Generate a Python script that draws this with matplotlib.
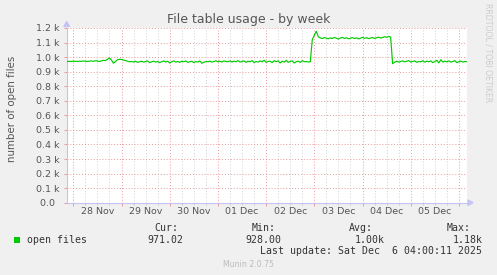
import matplotlib
matplotlib.use("Agg")
import matplotlib.pyplot as plt
from matplotlib.patches import Polygon, Rectangle
import numpy as np

# ---------------- data ----------------
hours = list(range(-4, 197))  # hours since 28 Nov 00:00
open_files = [
    968, 970, 971, 970, 972, 971, 970, 972, 971, 973, 972, 970,
    972, 974, 971, 975, 973, 970, 974, 978, 976, 985, 994, 980,
    958, 970, 982, 985, 984, 980, 976, 972, 968, 970, 966, 972,
    964, 968, 972, 966, 970, 974, 962, 968, 972, 966, 970, 962,
    968, 974, 966, 972, 960, 968, 974, 966, 970, 964, 972, 968,
    974, 964, 968, 972, 962, 970, 966, 974, 958, 964, 970, 968,
    972, 966, 970, 975, 968, 972, 966, 974, 970, 968, 974, 966,
    972, 968, 976, 966, 970, 974, 964, 972, 968, 976, 962, 970,
    966, 974, 968, 978, 964, 970, 972, 962, 976, 968, 974, 960,
    972, 966, 978, 964, 970, 974, 960, 968, 972, 964, 976, 968,
    970, 966, 968, 1120, 1150, 1178, 1140, 1132, 1128, 1134, 1130, 1126,
    1132, 1128, 1135, 1130, 1124, 1131, 1136, 1128, 1133, 1126, 1130, 1134,
    1128, 1132, 1125, 1130, 1136, 1129, 1133, 1127, 1131, 1135, 1128, 1133,
    1137, 1131, 1135, 1140, 1136, 1142, 1138, 955, 964, 972, 966, 970,
    974, 968, 972, 976, 966, 970, 974, 964, 970, 968, 975, 966,
    972, 968, 974, 962, 970, 978, 960, 982, 966, 972, 968, 974,
    966, 970, 976, 962, 968, 972, 966, 970, 968,
]
day_labels = ["28 Nov", "29 Nov", "30 Nov", "01 Dec", "02 Dec",
              "03 Dec", "04 Dec", "05 Dec"]
y_ticks = [0, 100, 200, 300, 400, 500, 600, 700, 800, 900, 1000, 1100, 1200]
y_tick_labels = ["0.0\u2002", "0.1 k", "0.2 k", "0.3 k", "0.4 k", "0.5 k", "0.6 k",
                 "0.7 k", "0.8 k", "0.9 k", "1.0 k", "1.1 k", "1.2 k"]
title = "File table usage - by week"
ylabel = "number of open files"
series_name = "open files"
stat_names = ["Cur:", "Min:", "Avg:", "Max:"]
stat_values = ["971.02", "928.00", "1.00k", "1.18k"]
last_update = "Last update: Sat Dec  6 04:00:11 2025"
footer = "Munin 2.0.75"
watermark = "RRDTOOL / TOBI OETIKER"

# ---------------- figure ----------------
W, H = 497, 275
BG = "#f0f0f0"
TXT = "#555555"
GREEN = "#00cc00"
AXC = "#c4c4f4"
MAJ = "#e89a9a"
MIN = "#cfcfcf"

fig = plt.figure(figsize=(W / 100, H / 100), dpi=100, facecolor=BG)

def fx(x):
    return x / W

def fy(y):
    return 1 - y / H

L, R, T, B = 66.7, 467.0, 28.0, 202.7
ax = fig.add_axes([fx(L), fy(B), fx(R) - fx(L), fy(T) - fy(B)])
ax.set_facecolor("white")

x_days = np.array(hours) / 24.0
ax.plot(x_days, open_files, color=GREEN, lw=0.85, zorder=3)

ax.set_xlim((L - 73.3) / 48.2, (R - 73.3) / 48.2)
ax.set_ylim(0, 1200)

# x ticks: majors at day boundaries, minors every 6 hours (labels at noon)
ax.set_xticks(list(range(0, 9)))
ax.set_xticklabels([""] * 9)
minor_pos, minor_lab = [], []
for d in range(8):
    for q in (1, 2, 3):
        minor_pos.append(d + q / 4)
        minor_lab.append(day_labels[d] if q == 2 else "")
ax.set_xticks(minor_pos, minor_lab, minor=True)

ax.set_yticks(y_ticks, y_tick_labels)

ax.tick_params(axis="x", which="major", length=2.2, width=0.7, color=MAJ, direction="out")
ax.tick_params(axis="x", which="minor", length=1.4, width=0.7, color=MIN, direction="out",
               pad=2.0, labelsize=6.8, labelcolor=TXT)
ax.tick_params(axis="y", which="major", length=2.2, width=0.7, color=MAJ, direction="out",
               pad=3.1, labelsize=6.8, labelcolor=TXT)

ax.grid(True, which="minor", axis="x", color=MIN, lw=0.7, linestyle=(0, (1, 2)))
ax.grid(True, which="major", axis="x", color=MAJ, lw=0.7, linestyle=(0, (1, 2)))
ax.grid(True, which="major", axis="y", color=MAJ, lw=0.7, linestyle=(0, (1, 2)))
ax.set_axisbelow(True)

for s in ("top", "right"):
    ax.spines[s].set_visible(False)
for s in ("left", "bottom"):
    ax.spines[s].set_color(AXC)
    ax.spines[s].set_linewidth(0.8)

# axis arrows
fig.patches.append(Polygon([(fx(L), fy(21.5)), (fx(L - 2.8), fy(26.5)), (fx(L + 2.8), fy(26.5))],
                           closed=True, transform=fig.transFigure, color=AXC, zorder=5))
fig.patches.append(Polygon([(fx(473), fy(B)), (fx(468), fy(B - 2.8)), (fx(468), fy(B + 2.8))],
                           closed=True, transform=fig.transFigure, color=AXC, zorder=5))

# texts
fig.text(fx(248.3), fy(19.5), title, ha="center", va="center", fontsize=9, color=TXT)
fig.text(fx(12.3), fy(109), ylabel, ha="center", va="center", rotation=90,
         fontsize=7.4, color=TXT)
fig.text(fx(487.7), fy(53), watermark, ha="center", va="center", rotation=270,
         fontsize=5.6, color="#cccccc")

MONO = "DejaVu Sans Mono"
fig.patches.append(Rectangle((fx(14), fy(242.5)), fx(6), 6 / H, transform=fig.transFigure,
                             facecolor=GREEN, edgecolor="none"))
fig.text(fx(26.7), fy(240), series_name, ha="left", va="center", fontsize=7.1,
         color="#333333", family=MONO)
label_left = [154.0, 252.0, 349.3, 446.7]
value_right = [183.3, 281.7, 385.0, 482.7]
for name, val, xl, xr in zip(stat_names, stat_values, label_left, value_right):
    fig.text(fx(xl), fy(228), name, ha="left", va="center", fontsize=7.1,
             color="#333333", family=MONO)
    fig.text(fx(xr), fy(240), val, ha="right", va="center", fontsize=7.1,
             color="#333333", family=MONO)
fig.text(fx(482.3), fy(251), last_update, ha="right", va="center", fontsize=7.1,
         color="#333333", family=MONO)
fig.text(fx(248), fy(264.5), footer, ha="center", va="center", fontsize=5.6, color="#bbbbbb")

fig.savefig("out.png", dpi=100, facecolor=BG)
